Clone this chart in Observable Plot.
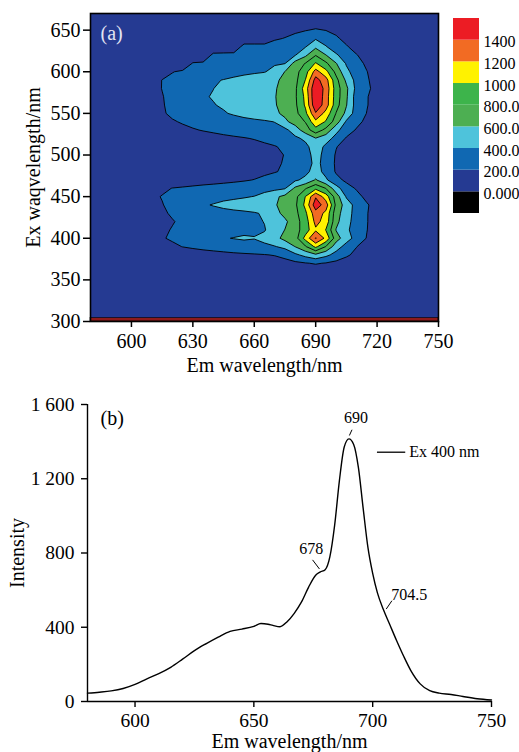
<!DOCTYPE html>
<html>
<head>
<meta charset="utf-8">
<script src="https://cdn.jsdelivr.net/npm/d3@7"></script>
<script src="https://cdn.jsdelivr.net/npm/@observablehq/plot@0.6"></script>
<style>
  body { margin: 0; background: #fff; }
  #wrap { position: relative; width: 519px; height: 752px; overflow: hidden; background: #fff; }
  #wrap > svg { position: absolute; }
</style>
</head>
<body>
<div id="wrap"></div>
<script>
// ---------- (a) excitation-emission matrix ----------
// emission columns (nm)
const emColumns = [600,605,610,615,620,625,630,635,640,645,650,655,660,665,670,675,680,685,690,695,700,705,710,715,720,725];
// excitation rows (nm), top to bottom
const exRows = [660,650,640,630,620,610,600,590,580,570,560,550,540,530,520,510,500,490,480,470,460,450,440,430,420,410,400,390,380,370,360];
const eemRows = [
  [0,0,0,0,0,0,0,0,0,0,0,0,0,0,0,0,0,60,100,70,40,20,0,0,0,0],
  [0,0,0,0,0,0,0,0,0,0,0,0,0,0,0,120,160,190,220,195,150,90,50,30,10,0],
  [0,0,0,0,0,0,0,0,0,0,0,0,0,0,170,210,260,320,380,330,230,140,80,40,10,0],
  [0,0,0,0,0,0,0,0,0,0,0,300,300,300,310,330,360,390,560,410,320,220,120,60,20,0],
  [0,0,0,0,0,0,0,0,260,270,280,290,300,320,340,360,390,560,790,605,420,320,210,110,60,20],
  [0,0,0,0,0,0,220,240,260,280,300,320,340,360,380,395,680,810,1020,840,610,380,260,170,90,30],
  [0,0,0,0,190,240,270,290,310,330,345,360,375,390,460,605,730,920,1280,1060,740,450,300,205,110,40],
  [0,0,0,210,260,300,330,360,385,405,430,460,490,530,570,640,740,1005,1480,1280,860,560,330,220,130,60],
  [30,80,130,205,260,310,350,380,398,430,460,490,520,550,585,660,760,1100,1580,1330,900,640,340,240,130,60],
  [30,80,130,190,260,310,350,385,410,440,470,500,530,560,590,680,770,1050,1600,1300,900,630,300,210,130,60],
  [30,70,120,185,250,300,340,370,392,420,455,490,520,550,585,670,760,1030,1560,1300,880,610,310,210,120,60],
  [20,60,110,175,240,285,320,345,365,385,420,460,500,530,565,640,740,950,1380,1130,790,550,300,195,110,50],
  [10,40,80,130,180,220,250,275,295,310,325,340,355,375,405,560,680,810,1150,980,700,370,260,150,80,40],
  [0,20,50,80,110,150,185,210,230,250,270,290,310,330,345,350,500,700,920,740,450,300,180,100,50,20],
  [0,10,20,40,60,80,100,120,140,160,175,190,210,240,270,310,360,440,590,480,340,180,110,60,30,10],
  [0,0,10,20,30,40,50,60,70,80,100,120,140,165,190,230,280,350,500,360,210,120,60,30,10,0],
  [0,0,0,10,20,30,40,50,60,70,80,100,120,145,170,205,250,320,470,340,180,100,50,20,10,0],
  [0,0,0,10,20,30,40,50,60,70,85,105,125,150,180,210,250,310,450,340,170,100,50,20,10,0],
  [0,0,10,20,30,40,50,60,75,90,105,120,140,165,190,225,280,350,480,340,180,110,60,30,10,0],
  [0,10,30,50,70,90,110,125,140,155,170,185,205,240,280,320,370,450,620,430,260,160,90,40,15,0],
  [30,70,110,160,205,220,235,250,260,270,280,295,310,330,350,385,640,780,950,795,480,280,180,100,50,20],
  [60,110,160,210,240,265,290,315,335,355,370,385,405,470,560,650,740,1005,1380,1100,700,380,260,150,80,30],
  [50,100,145,190,260,310,350,380,410,440,460,480,510,540,580,680,760,1050,1520,1300,750,500,330,220,120,50],
  [40,90,130,175,220,260,290,310,330,345,360,370,385,420,530,660,740,960,1320,1150,680,490,320,210,110,40],
  [20,60,110,150,190,230,260,285,305,320,335,350,370,405,460,560,720,900,1260,1120,650,470,310,210,100,30],
  [30,80,130,170,210,245,270,290,310,330,350,365,380,390,480,605,720,900,1170,990,590,440,300,205,100,30],
  [92,122,150,184,228,274,312,347,378,390,405,418,405,440,535,660,710,1070,1415,1150,690,480,330,190,95,52],
  [20,50,80,120,160,205,230,255,275,295,315,335,350,370,390,450,605,780,1050,795,490,330,205,110,50,20],
  [0,10,20,40,60,80,100,115,130,145,160,170,180,192,210,260,360,460,560,450,330,230,150,80,30,10],
  [0,0,5,10,15,20,30,40,50,60,70,80,90,100,110,130,160,190,215,190,150,110,70,30,10,0],
  [0,0,0,0,5,10,15,20,25,30,35,40,45,50,55,60,70,80,90,80,60,40,20,10,0,0]
];
const levelThresholds = [200, 400, 600, 800, 1000, 1200, 1400];
const levelColors = ["#253A92", "#1068B2", "#4EC3DB", "#4DAF52", "#3DB44B", "#FFF200", "#F26B23", "#EC1C24"];
const belowZeroColor = "#000000";
const legendLabels = ["0.000", "200.0", "400.0", "600.0", "800.0", "1000", "1200", "1400"];
const emTicksA = [600, 630, 660, 690, 720, 750];
const exTicksA = [300, 350, 400, 450, 500, 550, 600, 650];
const scatterBand = [{emFrom: 580, emTo: 750, exFrom: 300, exTo: 304}];

// ---------- (b) emission spectrum at Ex 400 nm ----------
const spectrumEm = [580,585,590,595,600,605,610,615,620,625,630,635,640,645,650,653,656,658,661,664,667,670,673,676,678,680,682,684,686,688,690,692,694,696,698,700,702,704.5,707,710,713,716,720,724,728,733,738,744,750];
const spectrumI  = [45,50,57,70,92,122,150,184,228,274,312,347,378,390,405,420,416,410,403,430,475,535,615,680,698,710,780,950,1190,1370,1415,1385,1260,1040,830,690,585,495,420,330,245,168,95,58,45,38,27,15,8];
const emTicksB = [600, 650, 700, 750];
const intensityTicks = [0, 400, 800, 1200, 1600];
const intensityTickLabels = ["0", "400", "800", "1 200", "1 600"];
const peakNotes = [
  {label: "690",   tx: 693.0, ty: 1527, ax1: 691.3, ay1: 1464, ax2: 690.2, ay2: 1433},
  {label: "678",   tx: 674.2, ty: 824,  ax1: 674.7, ay1: 763,  ax2: 677.6, ay2: 714},
  {label: "704.5", tx: 715.4, ty: 575,  ax1: 708.1, ay1: 543,  ax2: 705.7, ay2: 498}
];
const seriesKey = [{name: "Ex 400 nm", x1: 701.8, x2: 713.7, y: 1343}];

const FONT = "'Liberation Serif', 'Times New Roman', serif";
const wrap = document.getElementById("wrap");

// grid for Plot.contour (rows bottom-to-top)
const gridValues = eemRows.slice().reverse().flat();
const nCols = emColumns.length, nRows = exRows.length;
const dEm = emColumns[1] - emColumns[0], dEx = exRows[0] - exRows[1];

const plotA = Plot.plot({
  width: 519, height: 380,
  marginLeft: 90, marginRight: 81, marginTop: 13, marginBottom: 59,
  style: {fontFamily: FONT, fontSize: "20px", background: "transparent", color: "black"},
  x: {domain: [580, 750]},
  y: {domain: [300, 670]},
  color: {type: "threshold", domain: levelThresholds, range: levelColors},
  marks: [
    Plot.frame({fill: levelColors[0]}),
    Plot.contour(gridValues, {
      width: nCols, height: nRows,
      x1: emColumns[0] - dEm / 2, x2: emColumns[nCols - 1] + dEm / 2,
      y1: exRows[nRows - 1] - dEx / 2, y2: exRows[0] + dEx / 2,
      thresholds: levelThresholds,
      fill: Plot.identity, stroke: "black", strokeWidth: 0.9
    }),
    Plot.rect(scatterBand, {x1: "emFrom", x2: "emTo", y1: "exFrom", y2: "exTo", fill: "#8E1A1A", stroke: "black", strokeWidth: 0.6}),
    Plot.axisX({ticks: emTicksA, tickSize: 6, tickPadding: 6, label: null, fontSize: 20, strokeWidth: 1.5}),
    Plot.axisY({ticks: exTicksA, tickSize: 7, tickPadding: 3, label: null, fontSize: 20, strokeWidth: 1.5}),
    Plot.frame({stroke: "black", strokeWidth: 1.6}),
    Plot.text(["(a)"], {frameAnchor: "top-left", dx: 10, dy: 20, fill: "#E3E5F3", fontSize: 20, textAnchor: "start", lineAnchor: "middle"}),
    Plot.text(["Em wavelength/nm"], {frameAnchor: "bottom", dy: 44, fontSize: 20, textAnchor: "middle", lineAnchor: "middle"}),
    Plot.text(["Ex waqvelength/nm"], {frameAnchor: "left", dx: -57, rotate: -90, fontSize: 20, textAnchor: "middle", lineAnchor: "middle"})
  ]
});
plotA.style.left = "0px"; plotA.style.top = "0px";
wrap.appendChild(plotA);

// colour bar
const barColors = [belowZeroColor, ...levelColors];
const legendPlot = Plot.plot({
  width: 74, height: 230, margin: 0,
  style: {fontFamily: FONT, fontSize: "16px", background: "transparent", color: "black", overflow: "visible"},
  x: {domain: [0, 1], range: [8, 34], axis: null},
  y: {domain: [0, barColors.length], range: [213, 18], axis: null},
  marks: [
    Plot.rect(barColors, {x1: () => 0, x2: () => 1, y1: (d, i) => i, y2: (d, i) => i + 1, fill: d => d}),
    Plot.text(legendLabels, {x: () => 1, y: (d, i) => i + 1, text: d => d, dx: 4, dy: 2, textAnchor: "start", fontSize: 16})
  ]
});
legendPlot.style.left = "445px"; legendPlot.style.top = "0px";
wrap.appendChild(legendPlot);

// (b)
const spectrum = spectrumEm.map((em, i) => ({em, intensity: spectrumI[i]}));
const plotB = Plot.plot({
  width: 519, height: 372,
  marginLeft: 87, marginRight: 28, marginTop: 24, marginBottom: 51,
  style: {fontFamily: FONT, fontSize: "20px", background: "transparent", color: "black"},
  x: {domain: [580, 750]},
  y: {domain: [0, 1600]},
  marks: [
    Plot.ruleX([580], {strokeWidth: 1.4}),
    Plot.ruleY([0], {strokeWidth: 1.4}),
    Plot.axisX({ticks: emTicksB, tickSize: 6, tickPadding: 6, label: null, fontSize: 19.5, strokeWidth: 1.4}),
    Plot.axisY({ticks: intensityTicks, tickFormat: (d, i) => intensityTickLabels[i], tickSize: 6, tickPadding: 7, label: null, fontSize: 19.5, strokeWidth: 1.4}),
    Plot.line(spectrum, {x: "em", y: "intensity", curve: "monotone-x", stroke: "black", strokeWidth: 1.4}),
    Plot.link(peakNotes, {x1: "ax1", y1: "ay1", x2: "ax2", y2: "ay2", stroke: "black", strokeWidth: 1}),
    Plot.text(peakNotes, {x: "tx", y: "ty", text: "label", fontSize: 16}),
    Plot.link(seriesKey, {x1: "x1", x2: "x2", y1: "y", y2: "y", stroke: "black", strokeWidth: 1.3}),
    Plot.text(seriesKey, {x: "x2", y: "y", text: "name", dx: 4, textAnchor: "start", fontSize: 16}),
    Plot.text(["(b)"], {frameAnchor: "top-left", dx: 13, dy: 14, fontSize: 20, textAnchor: "start", lineAnchor: "middle"}),
    Plot.text(["Em wavelength/nm"], {frameAnchor: "bottom", dy: 40, fontSize: 20, textAnchor: "middle", lineAnchor: "middle"}),
    Plot.text(["Intensity"], {frameAnchor: "left", dx: -70, rotate: -90, fontSize: 20, textAnchor: "middle", lineAnchor: "middle"})
  ]
});
plotB.style.left = "0px"; plotB.style.top = "380px";
wrap.appendChild(plotB);
</script>
</body>
</html>
